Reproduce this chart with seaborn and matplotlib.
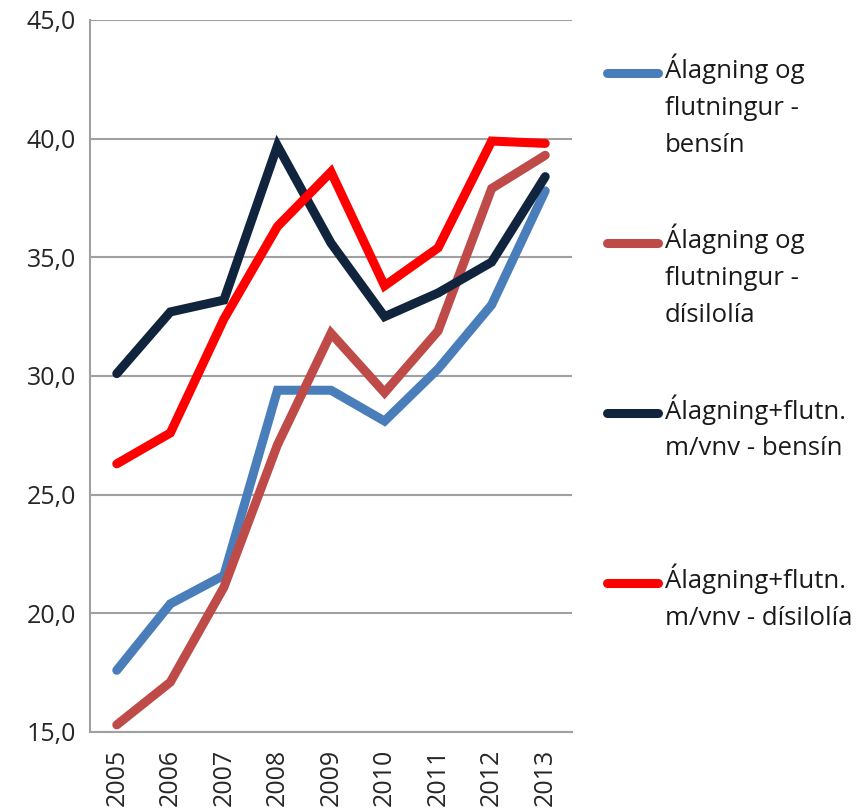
import numpy as np
import pandas as pd
import matplotlib
matplotlib.use("Agg")
import matplotlib.pyplot as plt
import seaborn as sns

# 数据
years = ["2005", "2006", "2007", "2008", "2009", "2010", "2011", "2012", "2013"]
bensin = [17.6, 20.4, 21.6, 29.4, 29.4, 28.1, 30.3, 33.0, 37.8]
disil = [15.3, 17.1, 21.1, 27.1, 31.8, 29.3, 31.9, 37.9, 39.3]
bensin_vnv = [30.1, 32.7, 33.2, 39.7, 35.6, 32.5, 33.5, 34.8, 38.4]
disil_vnv = [26.3, 27.6, 32.4, 36.3, 38.6, 33.8, 35.4, 39.9, 39.8]

labels = ["Álagning og\nflutningur -\nbensín",
          "Álagning og\nflutningur -\ndísilolía",
          "Álagning+flutn.\nm/vnv - bensín",
          "Álagning+flutn.\nm/vnv - dísilolía"]
colors = ["#4A7EBB", "#BE4B48", "#10243E", "#FF0000"]

df = pd.DataFrame({"ar": list(range(len(years))) * 4,
                   "gildi": bensin + disil + bensin_vnv + disil_vnv,
                   "rod": np.repeat(labels, len(years))})

sns.set_style("white")
plt.rcParams["font.family"] = ["Open Sans", "DejaVu Sans"]

W, H = 857, 809
fig = plt.figure(figsize=(W / 100, H / 100), dpi=100)
ax = fig.add_axes([90 / W, 1 - 732 / H, (572 - 90) / W, (732 - 20) / H])

sns.lineplot(data=df, x="ar", y="gildi", hue="rod", palette=colors,
             linewidth=6.5, ax=ax, legend=False, solid_capstyle="round",
             solid_joinstyle="miter")

ax.set_xlim(-0.5, len(years) - 0.5)
ax.set_ylim(15, 45)
ax.set_yticks([15, 20, 25, 30, 35, 40, 45])
ax.set_yticklabels(["15,0", "20,0", "25,0", "30,0", "35,0", "40,0", "45,0"], fontsize=18, color="#262626")
ax.set_xticks(range(len(years)))
ax.set_xticklabels(years, rotation=90, fontsize=18, color="#262626")
ax.set_xticks(np.arange(-0.5, len(years)), minor=True)
ax.tick_params(axis="x", which="major", length=0, pad=12)
ax.tick_params(axis="x", which="minor", length=7, color="#a0a0a0", width=1.5)
ax.tick_params(axis="y", length=7, color="#a0a0a0", width=1.5, pad=3)
ax.yaxis.grid(True, color="#a0a0a0", linewidth=1.5)
ax.set_axisbelow(True)
ax.set_xlabel("")
ax.set_ylabel("")
for s in ["top", "right"]:
    ax.spines[s].set_visible(False)
for s in ["left", "bottom"]:
    ax.spines[s].set_color("#a0a0a0")
    ax.spines[s].set_linewidth(1.5)

# legend, handmade so the line sits at the first text line
leg_y = [73, 243, 413, 583]
for c, lab, yy in zip(colors, labels, leg_y):
    fy = 1 - yy / H
    fig.add_artist(plt.Line2D([607 / W, 658 / W], [fy, fy], color=c, linewidth=6.5,
                              solid_capstyle="round", transform=fig.transFigure))
    fig.text(665 / W, 1 - (yy - 19) / H, lab, ha="left", va="top", fontsize=18.5,
             color="#1a1a1a", linespacing=1.62)

plt.savefig("out.png", dpi=100)
